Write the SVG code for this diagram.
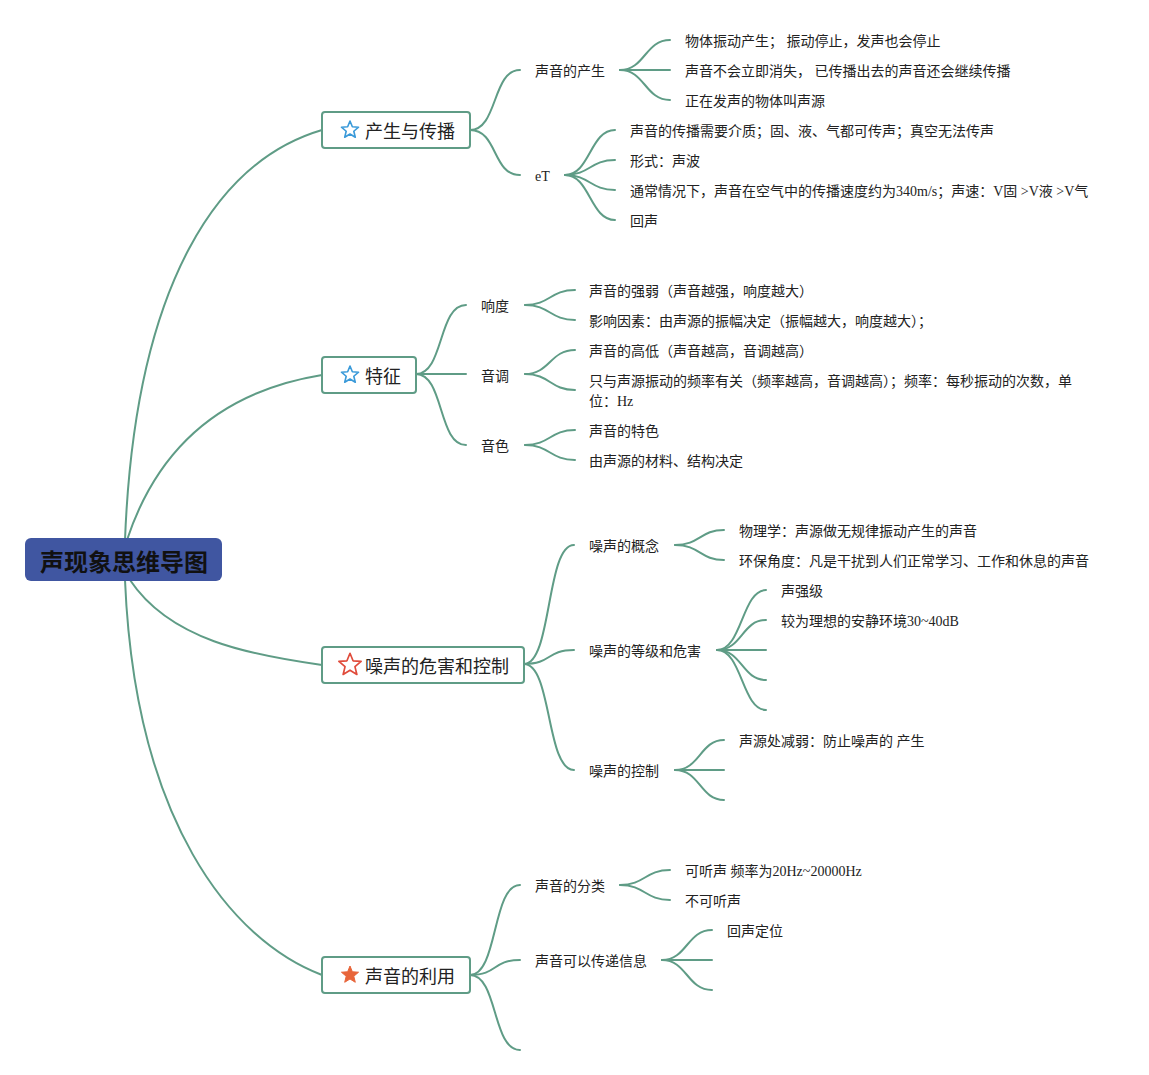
<svg xmlns="http://www.w3.org/2000/svg" width="1149" height="1075" viewBox="0 0 1149 1075">
<defs>
<style>
.c{fill:none;stroke:#5f9c86;stroke-width:2;stroke-linecap:round}
.box{fill:#fff;stroke:#5f9c86;stroke-width:2}
.mt{font-family:"Noto Sans CJK SC","Noto Sans",sans-serif;font-size:18px;fill:#222;dominant-baseline:central}
.t{font-family:"Liberation Serif","Noto Sans CJK SC",serif;font-size:14px;fill:#222;dominant-baseline:central}
.root{font-family:"Noto Sans CJK SC","Noto Sans",sans-serif;font-size:24px;font-weight:bold;fill:#111;dominant-baseline:central;text-anchor:middle}
</style>
<polygon id="star" points="0,-9 2.35,-3.24 8.56,-2.78 3.8,1.24 5.29,7.28 0,4 -5.29,7.28 -3.8,1.24 -8.56,-2.78 -2.35,-3.24" stroke-linejoin="round"/>
</defs>
<rect width="1149" height="1075" fill="#fff"/>
<g id="connectors">
<path class="c" d="M125,540 C135,280 220,160 322,130"/>
<path class="c" d="M127,540 C160,440 230,390 322,375"/>
<path class="c" d="M130,580 C170,640 250,655 322,665"/>
<path class="c" d="M125,580 C135,820 230,940 322,975"/>
<path class="c" d="M470,130 C498,130 492,70 520,70"/>
<path class="c" d="M470,130 C498,130 492,175 520,175"/>
<path class="c" d="M620,70 C645,70 645,40 670,40"/>
<path class="c" d="M620,70 L670,70"/>
<path class="c" d="M620,70 C645,70 645,100 670,100"/>
<path class="c" d="M565,175 C590,175 590,130 615,130"/>
<path class="c" d="M565,175 C590,175 590,160 615,160"/>
<path class="c" d="M565,175 C590,175 590,190 615,190"/>
<path class="c" d="M565,175 C590,175 590,220 615,220"/>
<path class="c" d="M416,374 C444,374 438,305 466,305"/>
<path class="c" d="M416,374 L466,374"/>
<path class="c" d="M416,374 C444,374 438,445 466,445"/>
<path class="c" d="M525,305 C550,305 550,290 575,290"/>
<path class="c" d="M525,305 C550,305 550,320 575,320"/>
<path class="c" d="M525,374 C550,374 550,350 575,350"/>
<path class="c" d="M525,374 C550,374 550,390 575,390"/>
<path class="c" d="M525,445 C550,445 550,430 575,430"/>
<path class="c" d="M525,445 C550,445 550,460 575,460"/>
<path class="c" d="M524,664 C552,664 546,545 574,545"/>
<path class="c" d="M524,664 C552,664 546,650 574,650"/>
<path class="c" d="M524,664 C552,664 546,770 574,770"/>
<path class="c" d="M675,545 C700,545 700,530 724,530"/>
<path class="c" d="M675,545 C700,545 700,560 724,560"/>
<path class="c" d="M717,650 C742,650 742,590 766,590"/>
<path class="c" d="M717,650 C742,650 742,620 766,620"/>
<path class="c" d="M717,650 L766,650"/>
<path class="c" d="M717,650 C742,650 742,680 766,680"/>
<path class="c" d="M717,650 C742,650 742,710 766,710"/>
<path class="c" d="M675,770 C700,770 700,740 724,740"/>
<path class="c" d="M675,770 L724,770"/>
<path class="c" d="M675,770 C700,770 700,800 724,800"/>
<path class="c" d="M470,975 C498,975 492,885 520,885"/>
<path class="c" d="M470,975 C498,975 492,960 520,960"/>
<path class="c" d="M470,975 C498,975 492,1050 520,1050"/>
<path class="c" d="M620,885 C645,885 645,870 670,870"/>
<path class="c" d="M620,885 C645,885 645,900 670,900"/>
<path class="c" d="M662,960 C687,960 687,930 712,930"/>
<path class="c" d="M662,960 L712,960"/>
<path class="c" d="M662,960 C687,960 687,990 712,990"/>
</g>
<g id="root">
<rect x="25" y="538" width="197" height="43" rx="6" fill="#4056a1"/>
<text class="root" x="124" y="560">声现象思维导图</text>
</g>
<g id="topic-chansheng">
<rect class="box" x="322" y="112" width="148" height="36" rx="3"/>
<use href="#star" x="350" y="130" fill="none" stroke="#3a9ad9" stroke-width="1.6"/>
<text class="mt" x="365" y="130">产生与传播</text>
</g>
<g id="topic-tezheng">
<rect class="box" x="322" y="357" width="94" height="36" rx="3"/>
<use href="#star" x="350" y="375" fill="none" stroke="#3a9ad9" stroke-width="1.6"/>
<text class="mt" x="365" y="375">特征</text>
</g>
<g id="topic-zaosheng">
<rect class="box" x="322" y="647" width="202" height="36" rx="3"/>
<use href="#star" x="350" y="665" transform="translate(350 665) scale(1.3) translate(-350 -665)" fill="none" stroke="#e04b3b" stroke-width="1.3"/>
<text class="mt" x="365" y="665">噪声的危害和控制</text>
</g>
<g id="topic-liyong">
<rect class="box" x="322" y="957" width="148" height="36" rx="3"/>
<use href="#star" x="350" y="975" fill="#e8653a" stroke="#e8653a" stroke-width="1"/>
<text class="mt" x="365" y="975">声音的利用</text>
</g>
<g id="sub-chansheng"><text class="t" x="535" y="71">声音的产生</text></g>
<g id="sub-eT"><text class="t" x="535" y="176">eT</text></g>
<g id="leaves-chansheng">
<text class="t" x="685" y="41">物体振动产生； 振动停止，发声也会停止</text>
<text class="t" x="685" y="71">声音不会立即消失， 已传播出去的声音还会继续传播</text>
<text class="t" x="685" y="101">正在发声的物体叫声源</text>
</g>
<g id="leaves-eT">
<text class="t" x="630" y="131">声音的传播需要介质；固、液、气都可传声；真空无法传声</text>
<text class="t" x="630" y="161">形式：声波</text>
<text class="t" x="630" y="191">通常情况下，声音在空气中的传播速度约为340m/s；声速：V固 &gt;V液 &gt;V气</text>
<text class="t" x="630" y="221">回声</text>
</g>
<g id="sub-xiangdu"><text class="t" x="481" y="306">响度</text></g>
<g id="sub-yindiao"><text class="t" x="481" y="376">音调</text></g>
<g id="sub-yinse"><text class="t" x="481" y="446">音色</text></g>
<g id="leaves-tezheng">
<text class="t" x="589" y="291">声音的强弱（声音越强，响度越大）</text>
<text class="t" x="589" y="321">影响因素：由声源的振幅决定（振幅越大，响度越大）；</text>
<text class="t" x="589" y="351">声音的高低（声音越高，音调越高）</text>
<text class="t" x="589" y="381">只与声源振动的频率有关（频率越高，音调越高）；频率：每秒振动的次数，单</text>
<text class="t" x="589" y="401">位：Hz</text>
<text class="t" x="589" y="431">声音的特色</text>
<text class="t" x="589" y="461">由声源的材料、结构决定</text>
</g>
<g id="sub-gainian"><text class="t" x="589" y="546">噪声的概念</text></g>
<g id="sub-dengji"><text class="t" x="589" y="651">噪声的等级和危害</text></g>
<g id="sub-kongzhi"><text class="t" x="589" y="771">噪声的控制</text></g>
<g id="leaves-zaosheng">
<text class="t" x="739" y="531">物理学：声源做无规律振动产生的声音</text>
<text class="t" x="739" y="561">环保角度：凡是干扰到人们正常学习、工作和休息的声音</text>
<text class="t" x="781" y="591">声强级</text>
<text class="t" x="781" y="621">较为理想的安静环境30~40dB</text>
<text class="t" x="739" y="741">声源处减弱：防止噪声的 产生</text>
</g>
<g id="sub-fenlei"><text class="t" x="535" y="886">声音的分类</text></g>
<g id="sub-xinxi"><text class="t" x="535" y="961">声音可以传递信息</text></g>
<g id="leaves-liyong">
<text class="t" x="685" y="871">可听声 频率为20Hz~20000Hz</text>
<text class="t" x="685" y="901">不可听声</text>
<text class="t" x="727" y="931">回声定位</text>
</g>
</svg>
